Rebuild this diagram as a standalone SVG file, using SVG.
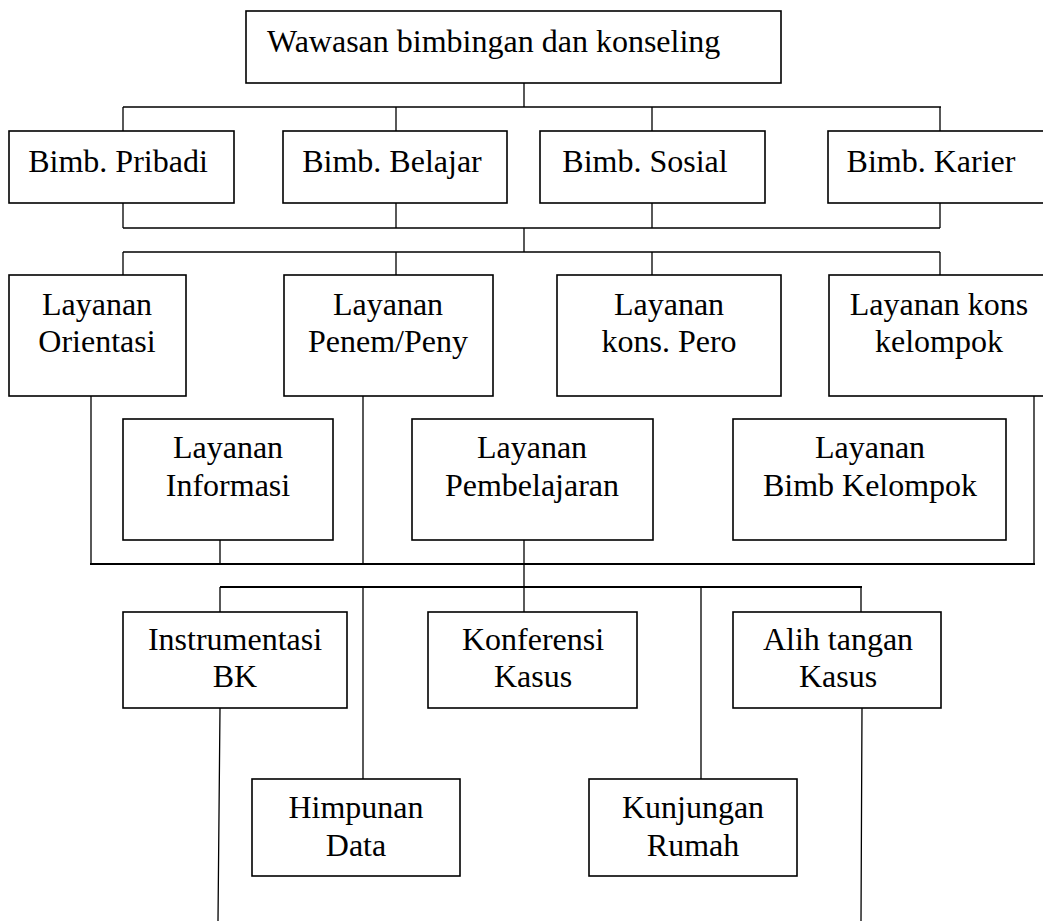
<svg xmlns="http://www.w3.org/2000/svg" width="1043" height="921" viewBox="0 0 1043 921">
<style>
.box{fill:#fff;stroke:#000;stroke-width:1.6}
.t{font-family:"Liberation Serif","Times New Roman",serif;font-size:32px;fill:#000;text-anchor:middle}
.c{fill:none;stroke:#000;stroke-width:1.3}
.ct{fill:none;stroke:#000;stroke-width:2.2}
</style>
<rect width="1043" height="921" fill="#fff"/>
<g id="connectors">
<path class="c" d="M524,83V107M123,107H941M123,107V131M396,107V131M652,107V131M940,107V131"/>
<path class="c" d="M123,203V228M396,203V228M652,203V228M940,203V228M123,228H940M524,228V252"/>
<path class="c" d="M123,252H940M123,252V275M396,252V275M652,252V275M940,252V275"/>
<path class="c" d="M91,396V564M363,396V564M1034,396V564M220,540V564"/>
<path class="ct" d="M90,564H1035"/>
<path class="c" d="M524,540V612"/>
<path class="ct" d="M220,587H862"/>
<path class="c" d="M220,587V612M363,587V779M701,587V779M861,587V612"/>
<path class="c" d="M220,708L218,921M862,708L861,921"/>
</g>
<g id="n-wawasan"><rect class="box" x="246" y="11" width="535" height="72"/><text class="t" x="267" y="52" style="text-anchor:start">Wawasan bimbingan dan konseling</text></g>
<g id="n-pribadi"><rect class="box" x="9" y="131" width="225" height="72"/><text class="t" x="118" y="172">Bimb. Pribadi</text></g>
<g id="n-belajar"><rect class="box" x="283" y="131" width="224" height="72"/><text class="t" x="392" y="172">Bimb. Belajar</text></g>
<g id="n-sosial"><rect class="box" x="540" y="131" width="225" height="72"/><text class="t" x="645" y="172">Bimb. Sosial</text></g>
<g id="n-karier"><rect class="box" x="828" y="131" width="230" height="72"/><text class="t" x="931" y="172">Bimb. Karier</text></g>
<g id="n-orientasi"><rect class="box" x="9" y="275" width="177" height="121"/><text class="t" x="97" y="315">Layanan</text><text class="t" x="97" y="352">Orientasi</text></g>
<g id="n-penem"><rect class="box" x="284" y="275" width="209" height="121"/><text class="t" x="388" y="315">Layanan</text><text class="t" x="388" y="352">Penem/Peny</text></g>
<g id="n-pero"><rect class="box" x="557" y="275" width="224" height="121"/><text class="t" x="669" y="315">Layanan</text><text class="t" x="669" y="352">kons. Pero</text></g>
<g id="n-konskelompok"><rect class="box" x="829" y="275" width="230" height="121"/><text class="t" x="939" y="315">Layanan kons</text><text class="t" x="939" y="352">kelompok</text></g>
<g id="n-informasi"><rect class="box" x="123" y="419" width="210" height="121"/><text class="t" x="228" y="458">Layanan</text><text class="t" x="228" y="496">Informasi</text></g>
<g id="n-pembelajaran"><rect class="box" x="412" y="419" width="241" height="121"/><text class="t" x="532" y="458">Layanan</text><text class="t" x="532" y="496">Pembelajaran</text></g>
<g id="n-bimbkelompok"><rect class="box" x="733" y="419" width="273" height="121"/><text class="t" x="870" y="458">Layanan</text><text class="t" x="870" y="496">Bimb Kelompok</text></g>
<g id="n-instrumentasi"><rect class="box" x="123" y="612" width="224" height="96"/><text class="t" x="235" y="650">Instrumentasi</text><text class="t" x="235" y="687">BK</text></g>
<g id="n-konferensi"><rect class="box" x="428" y="612" width="209" height="96"/><text class="t" x="533" y="650">Konferensi</text><text class="t" x="533" y="687">Kasus</text></g>
<g id="n-alih"><rect class="box" x="733" y="612" width="208" height="96"/><text class="t" x="838" y="650">Alih tangan</text><text class="t" x="838" y="687">Kasus</text></g>
<g id="n-himpunan"><rect class="box" x="252" y="779" width="208" height="97"/><text class="t" x="356" y="818">Himpunan</text><text class="t" x="356" y="856">Data</text></g>
<g id="n-kunjungan"><rect class="box" x="589" y="779" width="208" height="97"/><text class="t" x="693" y="818">Kunjungan</text><text class="t" x="693" y="856">Rumah</text></g>
</svg>
